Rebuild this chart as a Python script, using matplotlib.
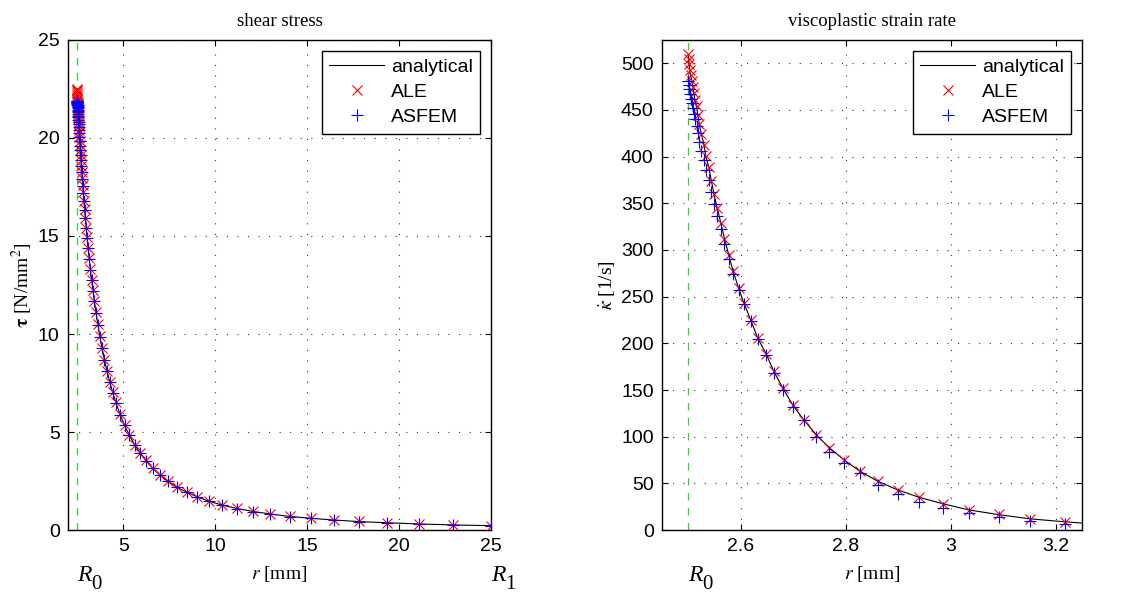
"""shear stress / viscoplastic strain rate: analytical vs ALE vs ASFEM."""

import matplotlib

matplotlib.use("Agg")
import matplotlib.pyplot as plt
from matplotlib.transforms import blended_transform_factory

plt.rcParams["font.family"] = ["Liberation Sans", "DejaVu Sans"]
plt.rcParams["mathtext.fontset"] = "stix"

R0 = 2.5
R1 = 25.0

# --- shear stress (left) ---
r_tau = [
    2.500, 2.501, 2.502, 2.503, 2.505, 2.507, 2.509, 2.511, 2.513, 2.516,
    2.518, 2.521, 2.525, 2.530, 2.533, 2.539, 2.544, 2.549, 2.555, 2.562,
    2.569, 2.577, 2.585, 2.596, 2.606, 2.619, 2.632, 2.648, 2.663, 2.680,
    2.699, 2.720, 2.744, 2.769, 2.797, 2.827, 2.862, 2.899, 2.940, 2.986,
    3.035, 3.091, 3.151, 3.217, 3.285, 3.355, 3.430, 3.52, 3.62, 3.73,
    3.85, 3.98, 4.12, 4.27, 4.43, 4.60, 4.83, 5.07, 5.33, 5.62,
    5.91, 6.23, 6.60, 6.99, 7.41, 7.90, 8.45, 9.03, 9.66, 10.35,
    11.17, 12.04, 12.98, 14.07, 15.19, 16.44, 17.84, 19.36, 21.10, 22.95,
    25.00,
]
tau_analytical = [
    22.00, 21.98, 21.96, 21.95, 21.91, 21.88, 21.84, 21.81, 21.77, 21.72,
    21.69, 21.64, 21.57, 21.48, 21.43, 21.33, 21.25, 21.16, 21.06, 20.95,
    20.83, 20.70, 20.58, 20.40, 20.25, 20.05, 19.85, 19.61, 19.39, 19.14,
    18.88, 18.58, 18.26, 17.93, 17.58, 17.21, 16.79, 16.36, 15.91, 15.42,
    14.93, 14.39, 13.85, 13.29, 12.74, 12.22, 11.69, 11.10, 10.49, 9.88,
    9.28, 8.68, 8.10, 7.54, 7.01, 6.50, 5.89, 5.35, 4.84, 4.35,
    3.94, 3.54, 3.16, 2.81, 2.50, 2.20, 1.93, 1.69, 1.47, 1.28,
    1.10, 0.95, 0.82, 0.69, 0.60, 0.51, 0.43, 0.37, 0.31, 0.26,
    0.22,
]
tau_ale = [
    22.50, 22.45, 22.38, 22.30, 22.20, 22.10, 22.00, 21.92, 21.85, 21.77,
    21.72, 21.66, 21.59, 21.50, 21.44, 21.34, 21.26, 21.17, 21.07, 20.96,
    20.84, 20.71, 20.59, 20.41, 20.26, 20.06, 19.86, 19.62, 19.40, 19.15,
    18.89, 18.59, 18.27, 17.94, 17.59, 17.22, 16.80, 16.37, 15.92, 15.43,
    14.94, 14.40, 13.86, 13.30, 12.75, 12.23, 11.70, 11.11, 10.50, 9.89,
    9.29, 8.69, 8.11, 7.55, 7.02, 6.51, 5.90, 5.36, 4.85, 4.36,
    3.95, 3.55, 3.17, 2.82, 2.51, 2.21, 1.94, 1.70, 1.48, 1.29,
    1.11, 0.96, 0.83, 0.70, 0.61, 0.52, 0.44, 0.38, 0.32, 0.27,
    0.23,
]
tau_asfem = [
    21.90, 21.88, 21.87, 21.85, 21.82, 21.79, 21.76, 21.73, 21.70, 21.66,
    21.63, 21.59, 21.53, 21.45, 21.40, 21.31, 21.23, 21.14, 21.05, 20.94,
    20.82, 20.69, 20.57, 20.39, 20.24, 20.04, 19.84, 19.60, 19.38, 19.13,
    18.87, 18.57, 18.25, 17.92, 17.57, 17.20, 16.78, 16.35, 15.90, 15.41,
    14.92, 14.38, 13.84, 13.28, 12.73, 12.21, 11.68, 11.09, 10.48, 9.87,
    9.27, 8.67, 8.09, 7.53, 7.00, 6.49, 5.88, 5.34, 4.83, 4.34,
    3.93, 3.53, 3.15, 2.80, 2.49, 2.19, 1.92, 1.68, 1.46, 1.27,
    1.09, 0.94, 0.81, 0.68, 0.59, 0.50, 0.42, 0.36, 0.30, 0.25,
    0.21,
]

# --- viscoplastic strain rate (right) ---
r_kappa = [
    2.500, 2.501, 2.502, 2.503, 2.505, 2.507, 2.509, 2.511, 2.513, 2.516,
    2.518, 2.521, 2.525, 2.530, 2.533, 2.539, 2.544, 2.549, 2.555, 2.562,
    2.569, 2.577, 2.585, 2.596, 2.606, 2.619, 2.632, 2.648, 2.663, 2.680,
    2.699, 2.720, 2.744, 2.769, 2.797, 2.827, 2.862, 2.899, 2.940, 2.986,
    3.035, 3.091, 3.151, 3.217,
]
r_kappa_line = r_kappa + [3.250]
kappa_analytical = [
    508, 503, 498, 492, 486, 480, 474, 467, 460, 453,
    445, 435, 424, 413, 401, 389, 374, 360, 345, 329,
    312, 295, 278, 259, 243, 225, 206, 189, 170, 152,
    134, 118, 102, 88, 75, 63, 52, 43, 35, 28,
    21.5, 16.5, 12, 8.8, 7.5,
]
kappa_ale = [
    510, 505, 499, 493, 487, 481, 475, 468, 461, 454,
    445, 435, 424, 413, 401, 389, 374, 360, 345, 329,
    312, 295, 278, 259, 243, 225, 206, 189, 170, 152,
    134, 118, 102, 88, 75, 63, 52, 43, 35, 28,
    21.4, 16.8, 11.8, 8.9,
]
kappa_asfem = [
    481, 477, 472, 467, 462, 457, 452, 446, 440, 433,
    425, 416, 406, 396, 386, 375, 362, 349, 336, 322,
    306, 290, 274, 257, 242, 224, 205, 188, 168, 150,
    132, 118, 100, 84, 72, 61, 48, 39, 30, 24,
    18.5, 14, 9.5, 6.4,
]

SERIF = ["Liberation Serif", "DejaVu Serif"]


def style_axes(ax):
    ax.grid(True, linestyle=(0, (1, 8.5)), color="#333333", linewidth=0.8)
    ax.tick_params(direction="in", top=True, right=True, length=4,
                   width=0.8, labelsize=14, pad=6)
    for sp in ax.spines.values():
        sp.set_linewidth(1.0)


def draw_panel(ax, r_line, y_line, r_pts, y_ale, y_asfem, title):
    ax.plot(r_line, y_line, color="black", linewidth=0.8, label="analytical", zorder=2)
    ax.plot(r_pts, y_ale, linestyle="none", marker="x", color="red",
            markersize=7, markeredgewidth=0.8, label="ALE", zorder=3)
    ax.plot(r_pts, y_asfem, linestyle="none", marker="+", color="blue",
            markersize=9, markeredgewidth=0.8, label="ASFEM", zorder=4)
    ax.axvline(R0, color="#22dd22", linestyle=(0, (6, 6)), linewidth=0.9, zorder=1)
    ax.set_title(title, family=SERIF, fontsize=13.5, pad=10)
    ax.set_xlabel(r"$r$ [mm]", family=SERIF, fontsize=14, labelpad=6)
    leg = ax.legend(loc="upper right", fontsize=14, fancybox=False,
                    framealpha=1, edgecolor="black", handlelength=2.8,
                    borderpad=0.4, borderaxespad=0.55, labelspacing=0.38,
                    handletextpad=0.35)
    leg.get_frame().set_linewidth(1.0)
    style_axes(ax)


fig = plt.figure(figsize=(11.23, 5.94), dpi=100)
ax1 = fig.add_axes([0.0606, 0.1077, 0.3767, 0.825])
ax2 = fig.add_axes([0.5895, 0.1077, 0.374, 0.825])

draw_panel(ax1, r_tau, tau_analytical, r_tau, tau_ale, tau_asfem, "shear stress")
ax1.set_xlim(2, 25)
ax1.set_ylim(0, 25)
ax1.set_xticks([5, 10, 15, 20, 25])
ax1.set_yticks([0, 5, 10, 15, 20, 25])
ax1.set_ylabel(r"$\mathbf{\tau}$ [N/mm$^2$]", family=SERIF, fontsize=14, labelpad=2)

draw_panel(ax2, r_kappa_line, kappa_analytical, r_kappa, kappa_ale, kappa_asfem,
           "viscoplastic strain rate")
ax2.set_xlim(2.45, 3.25)
ax2.set_ylim(0, 525)
ax2.set_xticks([2.6, 2.8, 3.0, 3.2])
ax2.set_xticklabels(["2.6", "2.8", "3", "3.2"])
ax2.set_yticks(range(0, 501, 50))
ax2.set_ylabel(r"$\dot{\kappa}$ [1/s]", family=SERIF, fontsize=14, labelpad=2)

for ax, marks in ((ax1, [(R0, "0"), (R1, "1")]), (ax2, [(R0, "0")])):
    tr = blended_transform_factory(ax.transData, ax.transAxes)
    for xpos, sub in marks:
        ax.text(xpos, -0.092, "R", transform=tr, ha="left", va="center",
                fontsize=17, family=SERIF, style="italic", clip_on=False)
        ax.annotate(sub, xy=(xpos, -0.092), xycoords=tr, xytext=(10, -7),
                    textcoords="offset points", ha="left", va="center",
                    fontsize=15, family=SERIF, annotation_clip=False)

fig.savefig("out.png", dpi=100)
